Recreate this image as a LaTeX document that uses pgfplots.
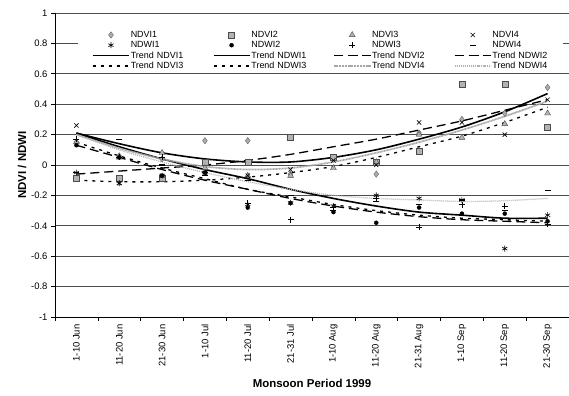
\documentclass[border=0pt]{standalone}
\usepackage{pgfplots}
\pgfplotsset{compat=1.18}
\usepackage{fontspec}
\setmainfont{Liberation Sans}
\begin{document}
\begin{tikzpicture}
\path[use as bounding box] (-55bp,-79bp) rectangle (514bp,317bp);
\begin{axis}[
  at={(0,0)}, anchor=south west,
  scale only axis, width=514bp, height=304bp,
  xmin=-0.5, xmax=11.5, ymin=-1, ymax=1,
  axis x line=bottom, axis y line=left,
  axis line style={-, black, line width=0.8bp},
  xtick={-0.5,0.5,...,11.5},
  x tick label as interval,
  xticklabels={1-10 Jun,11-20 Jun,21-30 Jun,1-10 Jul,11-20 Jul,21-31 Jul,1-10 Aug,11-20 Aug,21-31 Aug,1-10 Sep,11-20 Sep,21-30 Sep},
  ytick={-1,-0.8,-0.6,-0.4,-0.2,0,0.2,0.4,0.6,0.8,1},
  yticklabels={-1,-0.8,-0.6,-0.4,-0.2,0,0.2,0.4,0.6,0.8,1},
  tick align=outside, major tick length=4bp,
  tick style={black, line width=0.6bp},
  ymajorgrids, major grid style={black!70, line width=0.8bp},
  xticklabel style={rotate=90, anchor=east, font=\fontsize{9.5}{10}\selectfont},
  yticklabel style={font=\fontsize{9.5}{10}\selectfont},
  xlabel={Monsoon Period 1999}, ylabel={NDVI / NDWI},
  xlabel style={at={(axis description cs:0.5,-0.217)}, anchor=center, font=\fontsize{11.5}{12}\bfseries},
  ylabel style={at={(axis description cs:-0.064,0.5)}, anchor=center, font=\fontsize{11.5}{12}\bfseries},
  legend columns=4,
  legend cell align=left,
  legend image code/.code={\draw[mark repeat=2,mark phase=2,#1] plot coordinates {(0bp,0bp) (18bp,0bp) (36bp,0bp)};},
  legend style={at={(rel axis cs:0.0447,0.951)}, anchor=north west, draw=none, fill=white,
    font=\fontsize{9}{10}\selectfont, inner xsep=14bp, inner ysep=2bp, row sep=0.5bp,
    nodes={text width=56bp, inner sep=1bp, align=left},
    /tikz/every odd column/.append style={column sep=0bp},
    /tikz/every even column/.append style={column sep=25bp}},
]
% data series
\addplot[only marks, mark=diamond*, mark size=3.2bp, mark options={fill=gray!65, draw=black!60}] coordinates {
(0,0.15) (1,0.06) (2,0.04) (3,0.16) (4,0.16) (5,-0.06) (6,0.05) (7,-0.06) (8,0.21) (9,0.30) (10,0.34) (11,0.51)};
\addplot[only marks, mark=square*, mark size=3bp, mark options={fill=gray!60, draw=black!70}] coordinates {
(0,-0.09) (1,-0.09) (2,-0.09) (3,0.02) (4,0.02) (5,0.18) (6,0.05) (7,0.02) (8,0.09) (9,0.53) (10,0.53) (11,0.25)};
\addplot[only marks, mark=triangle*, mark size=3.4bp, mark options={fill=gray!60, draw=black!70}] coordinates {
(0,0.15) (1,0.05) (2,0.08) (3,-0.02) (4,-0.07) (5,-0.07) (6,-0.02) (7,0.02) (8,0.20) (9,0.18) (10,0.27) (11,0.34)};
\addplot[only marks, mark=x, mark size=3bp, mark options={draw=black, line width=0.6bp}] coordinates {
(0,0.26) (1,-0.12) (2,-0.07) (3,-0.05) (4,-0.07) (5,-0.03) (6,0.03) (7,0.0) (8,0.28) (9,0.28) (10,0.20) (11,0.43)};
\addplot[only marks, mark=asterisk, mark size=3bp, mark options={draw=black, line width=0.6bp}] coordinates {
(0,-0.05) (1,-0.12) (2,-0.07) (3,-0.05) (4,-0.26) (5,-0.25) (6,-0.27) (7,-0.20) (8,-0.22) (9,-0.23) (10,-0.55) (11,-0.33)};
\addplot[only marks, mark=*, mark size=2bp, mark options={fill=black, draw=black}] coordinates {
(0,0.13) (1,0.05) (2,-0.07) (3,-0.05) (4,-0.28) (5,-0.25) (6,-0.31) (7,-0.38) (8,-0.28) (9,-0.32) (10,-0.32) (11,-0.37)};
\addplot[only marks, mark=+, mark size=3bp, mark options={draw=black, line width=0.6bp}] coordinates {
(0,0.17) (1,0.05) (2,0.05) (3,-0.05) (4,-0.25) (5,-0.36) (6,-0.30) (7,-0.22) (8,-0.41) (9,-0.26) (10,-0.27) (11,-0.39)};
\addplot[only marks, mark=-, mark size=3bp, mark options={draw=black, line width=1.2bp}] coordinates {
(0,-0.05) (1,0.17) (2,0.0) (3,-0.07) (4,-0.10) (5,-0.20) (6,-0.28) (7,-0.24) (8,-0.26) (9,-0.23) (10,-0.30) (11,-0.17)};
% trend lines
\addplot[smooth, no marks, black, line width=1.6bp] coordinates {
(0,0.21) (1,0.14) (2,0.08) (3,0.04) (4,0.02) (5,0.02) (6,0.05) (7,0.10) (8,0.17) (9,0.25) (10,0.35) (11,0.47)};
\addplot[smooth, no marks, black, line width=1.6bp] coordinates {
(0,0.21) (1,0.12) (2,0.04) (3,-0.03) (4,-0.09) (5,-0.16) (6,-0.22) (7,-0.27) (8,-0.31) (9,-0.33) (10,-0.35) (11,-0.35)};
\addplot[smooth, no marks, black, line width=1.3bp, dash pattern=on 9bp off 5bp] coordinates {
(0,-0.06) (1,-0.04) (2,-0.02) (3,0.0) (4,0.03) (5,0.07) (6,0.12) (7,0.17) (8,0.23) (9,0.29) (10,0.36) (11,0.43)};
\addplot[smooth, no marks, black, line width=1.3bp, dash pattern=on 9bp off 5bp] coordinates {
(0,0.13) (1,0.05) (2,-0.03) (3,-0.10) (4,-0.16) (5,-0.22) (6,-0.27) (7,-0.31) (8,-0.34) (9,-0.36) (10,-0.37) (11,-0.38)};
\addplot[smooth, no marks, black, line width=1.3bp, dash pattern=on 3bp off 5bp] coordinates {
(0,-0.10) (1,-0.11) (2,-0.11) (3,-0.10) (4,-0.08) (5,-0.05) (6,-0.01) (7,0.05) (8,0.12) (9,0.19) (10,0.28) (11,0.38)};
\addplot[smooth, no marks, black, line width=1.3bp, dash pattern=on 3bp off 5bp] coordinates {
(0,0.15) (1,0.06) (2,-0.02) (3,-0.09) (4,-0.16) (5,-0.21) (6,-0.26) (7,-0.30) (8,-0.33) (9,-0.35) (10,-0.36) (11,-0.37)};
\addplot[smooth, no marks, gray!70, line width=1.7bp, dash pattern=on 1bp off 0.5bp] coordinates {
(0,0.20) (1,0.11) (2,0.04) (3,-0.01) (4,-0.03) (5,-0.02) (6,0.02) (7,0.08) (8,0.15) (9,0.23) (10,0.32) (11,0.42)};
\addplot[smooth, no marks, gray!60, line width=1.3bp, dash pattern=on 1bp off 1bp] coordinates {
(0,0.20) (1,0.10) (2,0.02) (3,-0.05) (4,-0.11) (5,-0.16) (6,-0.20) (7,-0.22) (8,-0.23) (9,-0.24) (10,-0.235) (11,-0.22)};
\legend{NDVI1,NDVI2,NDVI3,NDVI4,NDWI1,NDWI2,NDWI3,NDWI4,Trend NDVI1,Trend NDWI1,Trend NDVI2,Trend NDWI2,Trend NDVI3,Trend NDWI3,Trend NDVI4,Trend NDWI4}
\end{axis}
\end{tikzpicture}
\end{document}
